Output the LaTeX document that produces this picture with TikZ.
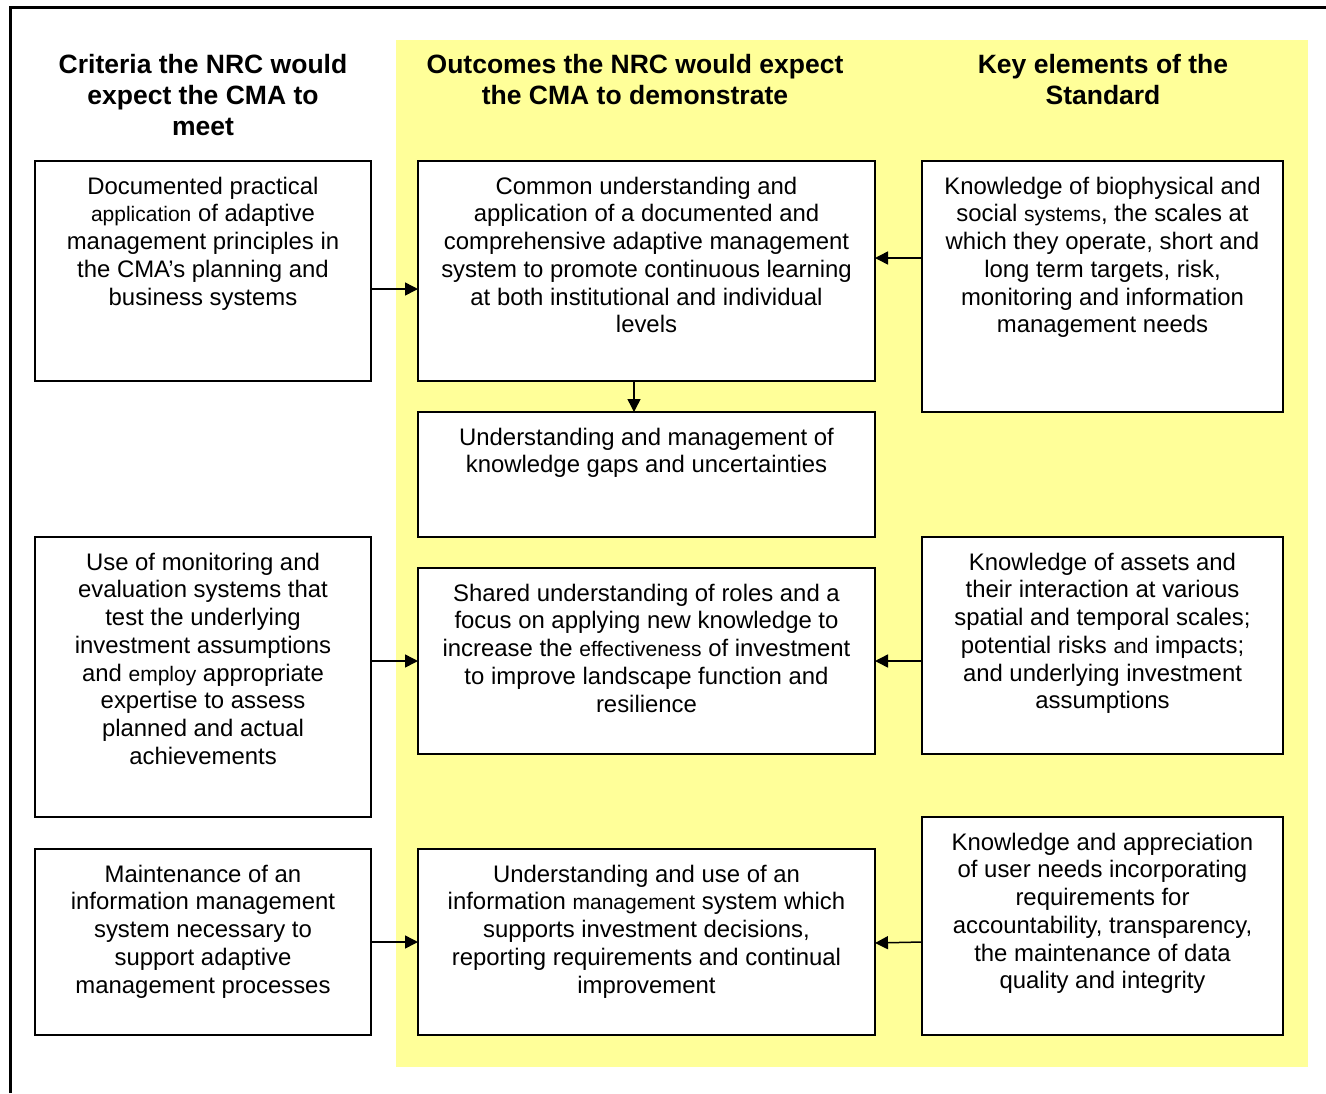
\documentclass[tikz,border=0pt]{standalone}
\usepackage{fontspec}
\setmainfont{Liberation Sans}
\usetikzlibrary{arrows.meta}
\definecolor{bgyellow}{RGB}{255,255,153}
\newcommand\smw[1]{{\fontsize{21}{27.75}\selectfont #1}}
\newcommand\boxtxt[3]{\begin{minipage}[t][#2][t]{#1}\centering\fontsize{23.9}{27.75}\selectfont\rule{0pt}{33pt}#3\end{minipage}}
\newcommand\headtxt[2]{\begin{minipage}[t]{#1}\centering\fontsize{26.5}{31}\selectfont\bfseries #2\end{minipage}}
\tikzset{
  box/.style={draw, line width=1.8pt, fill=white, inner sep=0pt, outer sep=0pt, anchor=north west},
  head/.style={inner sep=0pt, anchor=base},
  arr/.style={line width=1.5pt, -{Triangle[length=13pt,width=13pt]}}
}
\begin{document}
\begin{tikzpicture}[x=1pt,y=-1pt]
\useasboundingbox (0,0) rectangle (1326,1093);
\fill[white] (0,0) rectangle (1326,1093);
\fill[bgyellow] (396,40) rectangle (1308,1067);
\draw[line width=3pt] (10,1093) -- (10,7) -- (1326,7);

\node[head] (H1) at (203,73) {\headtxt{340pt}{Criteria the NRC would\\expect the CMA to\\meet}};
\node[head] (H2) at (635,73) {\headtxt{460pt}{Outcomes the NRC would expect\\the CMA to demonstrate}};
\node[head] (H3) at (1103,73) {\headtxt{360pt}{Key elements of the\\Standard}};

\node[box] (L1) at (35,161) {\boxtxt{336pt}{220pt}{Documented practical\\\smw{application} of adaptive\\management principles in\\the CMA’s planning and\\business systems}};
\node[box] (L2) at (35,537) {\boxtxt{336pt}{280pt}{Use of monitoring and\\evaluation systems that\\test the underlying\\investment assumptions\\and \smw{employ} appropriate\\expertise to assess\\planned and actual\\achievements}};
\node[box] (L3) at (35,849) {\boxtxt{336pt}{186pt}{Maintenance of an\\information management\\system necessary to\\support adaptive\\management processes}};

\node[box] (M1) at (418,161) {\boxtxt{457pt}{220pt}{Common understanding and\\application of a documented and\\comprehensive adaptive management\\system to promote continuous learning\\at both institutional and individual\\levels}};
\node[box] (M2) at (418,412) {\boxtxt{457pt}{125pt}{Understanding and management of\\knowledge gaps and uncertainties}};
\node[box] (M3) at (418,568) {\boxtxt{457pt}{186pt}{Shared understanding of roles and a\\focus on applying new knowledge to\\increase the \smw{effectiveness} of investment\\to improve landscape function and\\resilience}};
\node[box] (M4) at (418,849) {\boxtxt{457pt}{186pt}{Understanding and use of an\\information \smw{management} system which\\supports investment decisions,\\reporting requirements and continual\\improvement}};

\node[box] (R1) at (922,161) {\boxtxt{361pt}{251pt}{Knowledge of biophysical and\\social \smw{systems}, the scales at\\which they operate, short and\\long term targets, risk,\\monitoring and information\\management needs}};
\node[box] (R2) at (922,537) {\boxtxt{361pt}{217pt}{Knowledge of assets and\\their interaction at various\\spatial and temporal scales;\\potential risks \smw{and} impacts;\\and underlying investment\\assumptions}};
\node[box] (R3) at (922,817) {\boxtxt{361pt}{218pt}{Knowledge and appreciation\\of user needs incorporating\\requirements for\\accountability, transparency,\\the maintenance of data\\quality and integrity}};

\draw[arr] (L1.east |- 0,289) -- (M1.west |- 0,289);
\draw[arr] (R1.west |- 0,258) -- (M1.east |- 0,258);
\draw[arr] (M1.south -| 634,0) -- (M2.north -| 634,0);
\draw[arr] (L2.east |- M3.west) -- (M3.west);
\draw[arr] (R2.west |- M3.east) -- (M3.east);
\draw[arr] (L3.east) -- (M4.west);
\draw[arr] (R3.west |- 0,942) -- (M4.east |- 0,943);
\end{tikzpicture}
\end{document}
